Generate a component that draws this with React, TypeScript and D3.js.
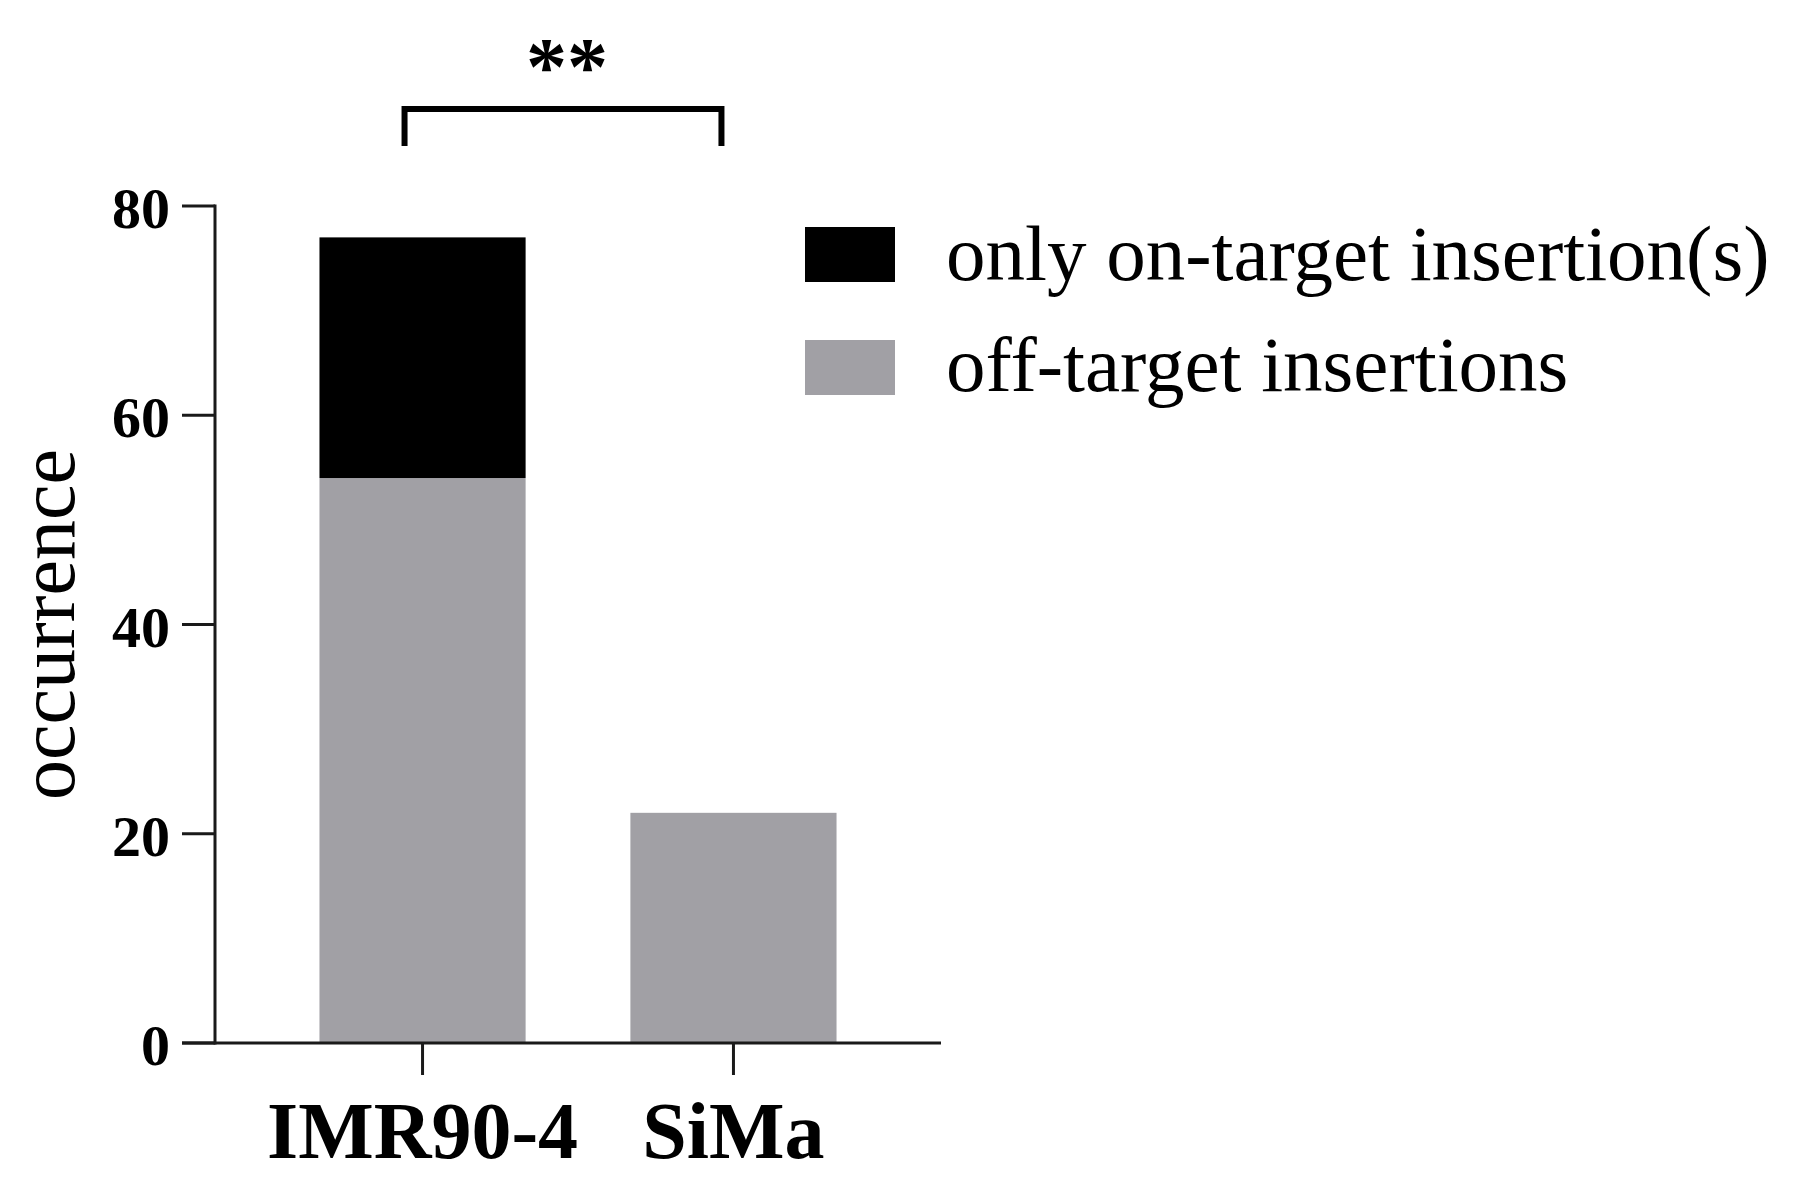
import React from "react";
import * as d3 from "d3";

const categories = ["IMR90-4", "SiMa"];
const offTarget = [54, 22];
const onlyOnTarget = [23, 0];
const yTicks = [0, 20, 40, 60, 80];
const legendLabels = ["only on-target insertion(s)", "off-target insertions"];
const significance = "**";

const W = 1805;
const H = 1198;
const FONT = "'Liberation Serif', 'Times New Roman', serif";
const GRAY = "#a1a0a5";
const AXIS = "#1a1a1a";

export default function App() {
  const x0 = 215, x1 = 941, y0 = 1043, yTop = 206;
  const x = d3.scaleBand<string>().domain(categories).range([x0, x1]).paddingInner(0.337).paddingOuter(0.336);
  const y = d3.scaleLinear().domain([0, 80]).range([y0, yTop]);
  const stack = d3.stack<any>().keys(["off", "on"])(
    categories.map((c, i) => ({ cat: c, off: offTarget[i], on: onlyOnTarget[i] }))
  );
  const colors = [GRAY, "#000000"];
  const cx = (c: string) => (x(c) as number) + x.bandwidth() / 2;
  const bl = cx(categories[0]) - 18;
  const br = cx(categories[1]) - 12;
  const legendColors = ["#000000", GRAY];

  return (
    <svg width={W} height={H} style={{ position: "absolute", left: 0, top: 0, background: "#fff" }}>
      {stack.map((layer, li) =>
        layer.map((d, i) =>
          d[1] - d[0] > 0 ? (
            <rect
              key={`${li}-${i}`}
              x={x(categories[i])}
              y={y(d[1])}
              width={x.bandwidth()}
              height={y(d[0]) - y(d[1])}
              fill={colors[li]}
            />
          ) : null
        )
      )}
      {/* y axis */}
      <line x1={x0} x2={x0} y1={yTop - 1.5} y2={y0 + 1.5} stroke={AXIS} strokeWidth={3} />
      {yTicks.map((t) => (
        <g key={t}>
          <line x1={182} x2={x0} y1={y(t)} y2={y(t)} stroke={AXIS} strokeWidth={3} />
          <text x={170} y={y(t) + 22} textAnchor="end" fontFamily={FONT} fontWeight="bold" fontSize={58} fill="#000">
            {t}
          </text>
        </g>
      ))}
      {/* x axis */}
      <line x1={182} x2={x1} y1={y0} y2={y0} stroke={AXIS} strokeWidth={3} />
      {categories.map((c) => (
        <g key={c}>
          <line x1={cx(c)} x2={cx(c)} y1={y0} y2={y0 + 32} stroke={AXIS} strokeWidth={3} />
          <text x={cx(c)} y={1158} textAnchor="middle" fontFamily={FONT} fontWeight="bold" fontSize={80} fill="#000">
            {c}
          </text>
        </g>
      ))}
      {/* y title */}
      <text
        transform={`translate(74, ${(y0 + yTop) / 2}) rotate(-90)`}
        textAnchor="middle"
        fontFamily={FONT}
        fontSize={80}
        fill="#000"
      >
        occurrence
      </text>
      {/* significance bracket */}
      <path
        d={`M${bl},146 L${bl},109 L${br},109 L${br},146`}
        fill="none"
        stroke="#000"
        strokeWidth={6}
      />
      <text x={(bl + br) / 2 + 4} y={94} textAnchor="middle" fontFamily={FONT} fontWeight="bold" fontSize={82} fill="#000">
        {significance}
      </text>
      {/* legend */}
      {legendLabels.map((l, i) => (
        <g key={l}>
          <rect x={805} y={227 + i * 113} width={90} height={55} fill={legendColors[i]} />
          <text x={946} y={280 + i * 111} fontFamily={FONT} fontSize={79} fill="#000">
            {l}
          </text>
        </g>
      ))}
    </svg>
  );
}
